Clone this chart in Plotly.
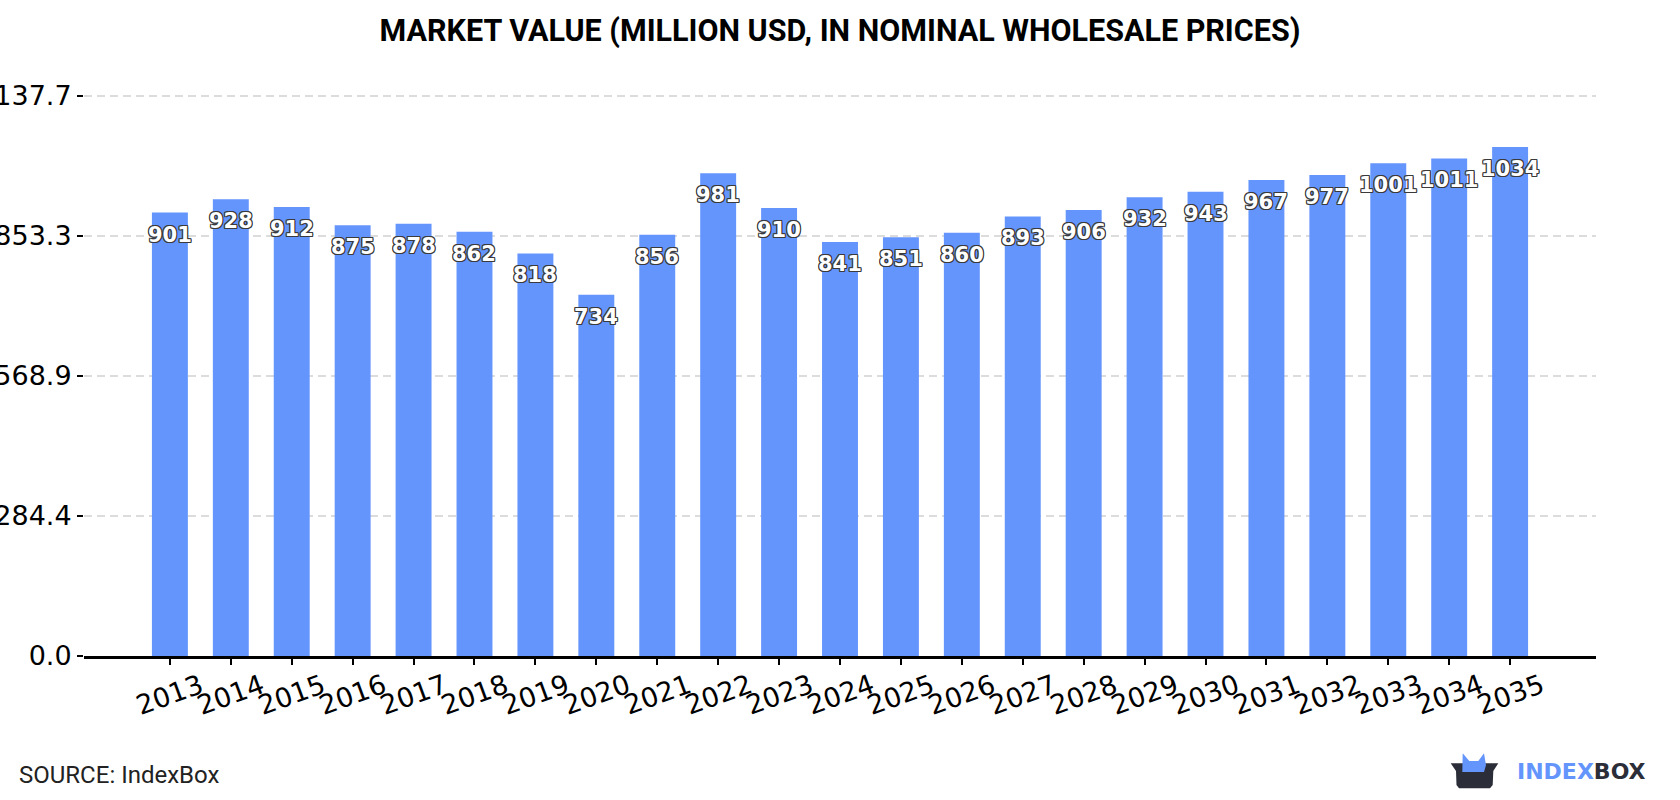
import plotly.graph_objects as go

years = ["2013", "2014", "2015", "2016", "2017", "2018", "2019", "2020", "2021", "2022", "2023",
         "2024", "2025", "2026", "2027", "2028", "2029", "2030", "2031", "2032", "2033", "2034", "2035"]
values = [901, 928, 912, 875, 878, 862, 818, 734, 856, 981, 910,
          841, 851, 860, 893, 906, 932, 943, 967, 977, 1001, 1011, 1034]
y_tickvals = [0.0, 284.4, 568.9, 853.3, 1137.7]
y_ticktext = ["0.0", "284.4", "568.9", "853.3", "1137.7"]

W, H = 1680, 800
L, R, T, B = 84, 84, 60, 144
PW, PH = W - L - R, H - T - B

BAR_COLOR = "#6495fd"
DARK = "#2b2d38"


def px(x):
    return (x - L) / PW


def py(y):
    return (H - B - y) / PH


fig = go.Figure()
fig.add_trace(go.Bar(x=years, y=values, marker=dict(color=BAR_COLOR, line=dict(width=0)),
                     width=0.59, hoverinfo="x+y"))

outline = ("1px 1px 0 #3a3a3a, -1px -1px 0 #3a3a3a, 1px -1px 0 #3a3a3a, -1px 1px 0 #3a3a3a, "
           "0 1px 0 #3a3a3a, 0 -1px 0 #3a3a3a, 1px 0 0 #3a3a3a, -1px 0 0 #3a3a3a")
annotations = []
for i, (yr, v) in enumerate(zip(years, values)):
    annotations.append(dict(x=i, y=v, xref="x", yref="y", text=str(v), showarrow=False,
                            yanchor="middle", xanchor="center", yshift=-22,
                            font=dict(family="DejaVu Sans", size=21, color="white",
                                      weight="bold", shadow=outline)))
    annotations.append(dict(x=i, y=0, xref="x", yref="y", text=yr, showarrow=False,
                            yanchor="middle", xanchor="center", yshift=-38, textangle=-20,
                            font=dict(family="DejaVu Sans", size=27, color="black")))

annotations.append(dict(x=px(17), y=py(775), xref="paper", yref="paper", text="SOURCE: IndexBox",
                        showarrow=False, xanchor="left", yanchor="middle",
                        font=dict(family="Roboto", size=24, color="#222222")))
annotations.append(dict(x=px(1515), y=py(771), xref="paper", yref="paper",
                        text="<span style='color:%s'>INDEX</span><span style='color:%s'>BOX</span>" % (BAR_COLOR, DARK),
                        showarrow=False, xanchor="left", yanchor="middle",
                        font=dict(family="DejaVu Sans", size=22, weight="bold")))


def path(points):
    return "M " + " L ".join("%.5f,%.5f" % (px(a), py(b)) for a, b in points) + " Z"


box_pts = [(1450.7, 763.3), (1498.3, 763.3), (1493.3, 771), (1492.7, 785), (1490, 788.3),
           (1459, 788.3), (1456.5, 785), (1456, 771)]
ear_pts = [(1462.3, 772), (1462.7, 753.3), (1469.3, 761), (1478.3, 761), (1484, 753.3),
           (1486, 765), (1484, 772)]
shapes = [
    dict(type="path", xref="paper", yref="paper", path=path(box_pts), fillcolor=DARK, line=dict(width=0)),
    dict(type="path", xref="paper", yref="paper", path=path(ear_pts), fillcolor=BAR_COLOR, line=dict(width=0)),
]

fig.update_layout(
    width=W, height=H,
    margin=dict(l=L, r=R, t=T, b=B, autoexpand=False),
    paper_bgcolor="white", plot_bgcolor="white",
    showlegend=False,
    title=dict(text="MARKET VALUE (MILLION USD, IN NOMINAL WHOLESALE PRICES)",
               x=0.5, xanchor="center", xref="paper", yref="container", y=1 - 30 / H, yanchor="middle",
               font=dict(family="Roboto", size=30.5, color="black", weight="bold")),
    xaxis=dict(type="category", range=[-1.41, len(years) - 1 + 1.41], showgrid=False,
               showline=True, linecolor="black", linewidth=2.5,
               ticks="outside", ticklen=6, tickwidth=2, tickcolor="black",
               showticklabels=False, automargin=False, fixedrange=True),
    yaxis=dict(range=[0, PH / 0.4922], tickvals=y_tickvals, ticktext=y_ticktext,
               showgrid=True, gridcolor="#dcdcdc", gridwidth=2, griddash="8px,5px",
               zeroline=False, showline=False,
               ticks="outside", ticklen=6, tickwidth=2, tickcolor="black",
               tickfont=dict(family="DejaVu Sans", size=27, color="black"),
               automargin=False, fixedrange=True),
    annotations=annotations,
    shapes=shapes,
    bargap=0.41,
)

fig.write_html("out.html", config={"displayModeBar": False},
               post_script="document.body.style.margin='0px';")
